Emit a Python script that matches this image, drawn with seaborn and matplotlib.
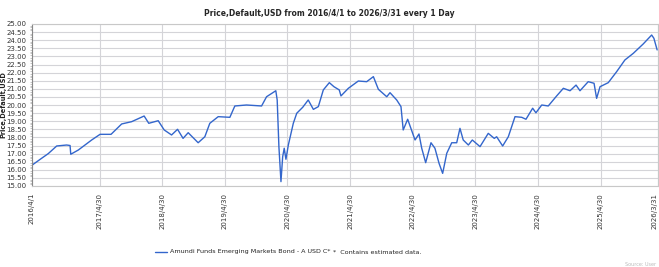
import matplotlib
matplotlib.use("Agg")
import matplotlib.pyplot as plt
import seaborn as sns
import pandas as pd
from matplotlib.ticker import MultipleLocator, FormatStrFormatter

dates = [
    "2016-04-03", "2016-05-27", "2016-07-05", "2016-08-23", "2016-10-20", "2016-11-09",
    "2016-11-13", "2016-12-27", "2017-03-15", "2017-05-03", "2017-07-06", "2017-09-06",
    "2017-11-03", "2018-01-15", "2018-02-11", "2018-04-07", "2018-05-12", "2018-06-24",
    "2018-07-29", "2018-08-30", "2018-09-29", "2018-11-26", "2019-01-04", "2019-02-02",
    "2019-03-23", "2019-05-30", "2019-06-28", "2019-09-04", "2019-12-01", "2019-12-30",
    "2020-02-22", "2020-03-01", "2020-03-11", "2020-03-23", "2020-04-02", "2020-04-11",
    "2020-04-21", "2020-05-05", "2020-06-03", "2020-06-23", "2020-07-28", "2020-08-29",
    "2020-09-28", "2020-10-27", "2020-11-25", "2020-12-30", "2021-01-26", "2021-02-26",
    "2021-03-08", "2021-04-20", "2021-06-17", "2021-08-05", "2021-09-13", "2021-10-12",
    "2021-11-30", "2021-12-19", "2022-01-27", "2022-02-21", "2022-03-06", "2022-04-01",
    "2022-05-14", "2022-06-06", "2022-06-22", "2022-07-15", "2022-08-15", "2022-09-07",
    "2022-10-01", "2022-10-22", "2022-11-15", "2022-12-14", "2023-01-12", "2023-01-31",
    "2023-02-19", "2023-03-21", "2023-04-13", "2023-05-28", "2023-07-15", "2023-08-19",
    "2023-09-02", "2023-10-07", "2023-11-09", "2023-12-18", "2024-01-26", "2024-02-20",
    "2024-03-30", "2024-04-18", "2024-05-22", "2024-06-29", "2024-08-17", "2024-09-25",
    "2024-11-03", "2024-12-08", "2024-12-31", "2025-02-17", "2025-03-23", "2025-04-07",
    "2025-04-27", "2025-06-14", "2025-08-02", "2025-09-19", "2025-11-07", "2026-01-04",
    "2026-02-22", "2026-03-07", "2026-03-26",
]
prices = [
    16.30, 16.71, 17.00, 17.47, 17.53, 17.50,
    16.96, 17.22, 17.84, 18.19, 18.19, 18.83,
    18.97, 19.32, 18.87, 19.03, 18.46, 18.15,
    18.50, 17.94, 18.29, 17.67, 18.04, 18.87,
    19.28, 19.24, 19.94, 20.00, 19.94, 20.51,
    20.88, 20.31, 17.43, 15.27, 16.81, 17.33,
    16.65, 17.53, 18.87, 19.49, 19.86, 20.31,
    19.73, 19.90, 20.93, 21.38, 21.13, 20.93,
    20.56, 21.03, 21.48, 21.44, 21.75, 20.97,
    20.51, 20.76, 20.31, 19.90, 18.46, 19.12,
    17.84, 18.21, 17.33, 16.44, 17.67, 17.33,
    16.40, 15.78, 17.02, 17.67, 17.67, 18.56,
    17.84, 17.53, 17.84, 17.43, 18.25, 17.94,
    18.04, 17.47, 18.04, 19.28, 19.24, 19.12,
    19.80, 19.52, 20.00, 19.94, 20.56, 21.03,
    20.88, 21.23, 20.88, 21.44, 21.34, 20.41,
    21.13, 21.38, 22.06, 22.78, 23.19, 23.77,
    24.32, 24.12, 23.40,
]
tick_dates = ["2016-04-01", "2017-04-30", "2018-04-30", "2019-04-30", "2020-04-30",
              "2021-04-30", "2022-04-30", "2023-04-30", "2024-04-30", "2025-04-30",
              "2026-03-31"]
tick_labels = ["2016/4/1", "2017/4/30", "2018/4/30", "2019/4/30", "2020/4/30",
               "2021/4/30", "2022/4/30", "2023/4/30", "2024/4/30", "2025/4/30",
               "2026/3/31"]
series_name = "Amundi Funds Emerging Markets Bond - A USD C*"
note = "*  Contains estimated data."
title = "Price,Default,USD from 2016/4/1 to 2026/3/31 every 1 Day"
y_title = "Price,Default,USD"

df = pd.DataFrame({"date": pd.to_datetime(dates), "price": prices})

sns.set_style("white")
plt.rcParams["font.family"] = ["Verdana", "DejaVu Sans"]

fig = plt.figure(figsize=(6.59, 2.67), dpi=100)
ax = fig.add_axes([32 / 659, 1 - 186 / 267, 626 / 659, 162 / 267])

sns.lineplot(data=df, x="date", y="price", ax=ax, color="#3366cc", linewidth=1.0,
             label=series_name, legend=False)

ax.set_xlim(pd.Timestamp("2016-04-01"), pd.Timestamp("2026-03-31"))
ax.set_ylim(15.0, 25.0)
ax.yaxis.set_major_locator(MultipleLocator(0.5))
ax.yaxis.set_minor_locator(MultipleLocator(0.1))
ax.yaxis.set_major_formatter(FormatStrFormatter("%.2f"))
ax.set_xticks(pd.to_datetime(tick_dates))
ax.set_xticklabels(tick_labels, rotation=90, fontsize=5.0, color="#333333")
ax.get_xticklabels()[-1].set_horizontalalignment("right")
ax.tick_params(axis="y", labelsize=5.0, colors="#333333", length=3, width=0.5, pad=1)
ax.tick_params(axis="y", which="minor", length=1.5, width=0.4, left=True, color="#999999")
ax.tick_params(axis="x", length=3, width=0.5, pad=2, colors="#333333")
ax.grid(True, axis="both", color="#d4d4d8", linewidth=0.8)
ax.set_xlabel("")
ax.set_ylabel("")
for s in ax.spines.values():
    s.set_color("#c8c8c8")
    s.set_linewidth(0.8)
ax.spines["left"].set_color("#888888")

fig.text(0.5 / 659, 1 - 105 / 267, y_title, rotation=90, ha="left", va="center",
         fontsize=4.8, fontweight="bold", color="#222222")
fig.text(0.5, 1 - 13 / 267, title, ha="center", va="center", fontsize=5.5, fontweight="bold")

# legend
fig.lines.append(plt.Line2D([155 / 659, 167 / 659], [1 - 252 / 267, 1 - 252 / 267],
                            color="#3366cc", linewidth=1.0, transform=fig.transFigure))
fig.text(170 / 659, 1 - 252 / 267, series_name, ha="left", va="center",
         fontsize=4.6, color="#222222")
fig.text(333 / 659, 1 - 252 / 267, note, ha="left", va="center",
         fontsize=4.6, color="#222222")
fig.text(656 / 659, 1 - 264 / 267, "Source: User", ha="right", va="center", fontsize=3.5,
         color="#bbbbbb")

fig.savefig("out.png", dpi=100)
